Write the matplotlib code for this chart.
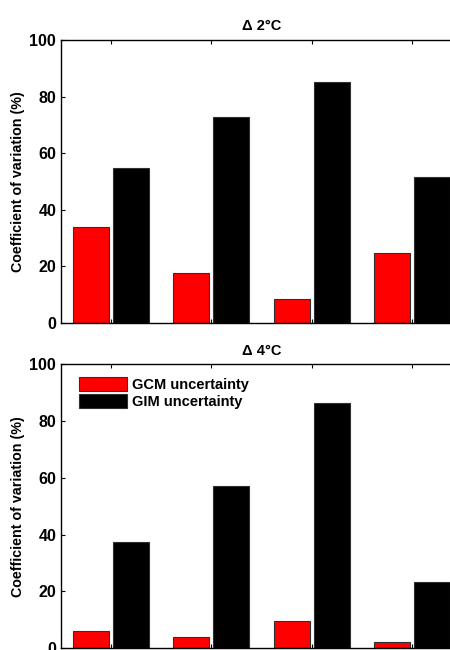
import matplotlib
matplotlib.use("Agg")
import matplotlib.pyplot as plt
import numpy as np

plt.rcParams['font.family'] = ['Liberation Sans', 'DejaVu Sans']
plt.rcParams['font.weight'] = 'bold'

groups = [1, 2, 3, 4]
titles = ["\u0394 2\u00b0C", "\u0394 4\u00b0C"]
gcm_2 = [34.0, 17.8, 8.6, 24.6]
gim_2 = [54.9, 72.7, 85.0, 51.5]
gcm_4 = [6.0, 3.8, 9.6, 2.1]
gim_4 = [37.3, 57.2, 86.5, 23.1]
series_labels = ["GCM uncertainty", "GIM uncertainty"]
yticks = [0, 20, 40, 60, 80, 100]

fig = plt.figure(figsize=(4.5, 6.5), dpi=100)
W, H = 450, 650

def add_ax(left, top, right, bottom):
    return fig.add_axes([left / W, 1 - bottom / H, (right - left) / W, (bottom - top) / H])

ax1 = add_ax(61, 40, 462, 323)
ax2 = add_ax(61, 364.3, 462, 648)

x = np.array(groups, dtype=float)
bw = 0.36
for ax, gcm, gim, title in [(ax1, gcm_2, gim_2, titles[0]), (ax2, gcm_4, gim_4, titles[1])]:
    ax.bar(x - 0.2, gcm, width=bw, color='#ff0000', edgecolor='#303030', linewidth=0.8,
           label=series_labels[0])
    ax.bar(x + 0.2, gim, width=bw, color='#000000', edgecolor='#303030', linewidth=0.8,
           label=series_labels[1])
    ax.set_xlim(0.5, 4.5)
    ax.set_ylim(0, 100)
    ax.set_xticks(groups)
    ax.set_xticklabels([])
    ax.set_yticks(yticks)
    ax.set_yticklabels([str(t) for t in yticks], fontsize=11.5, fontweight='bold')
    ax.tick_params(axis='both', direction='in', top=True, right=True, length=3, width=0.8)
    ax.set_title(title, fontsize=10.5, fontweight='bold', pad=7)
    ax.set_ylabel("Coefficient of variation (%)", fontsize=10.3, fontweight='bold', labelpad=3)
    for s in ax.spines.values():
        s.set_linewidth(1.0)

leg = ax2.legend(loc='upper left', frameon=False, fontsize=10.5, handlelength=3.3,
                 handleheight=1.1, borderaxespad=0.3, labelspacing=0.15, handletextpad=0.3,
                 bbox_to_anchor=(0.02, 0.99))
for t in leg.get_texts():
    t.set_fontweight('bold')

fig.savefig("out.png", dpi=100)
